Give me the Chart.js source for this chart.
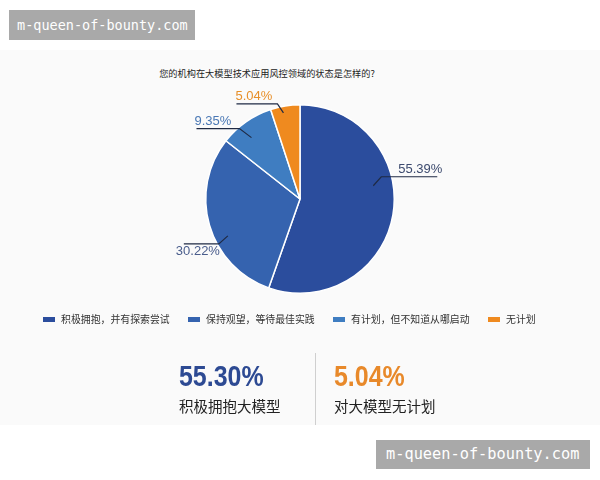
<!DOCTYPE html>
<html>
<head>
<meta charset="utf-8">
<script src="https://cdn.jsdelivr.net/npm/chart.js@4.4.1/dist/chart.umd.min.js"></script>
<style>
  body { margin: 0; background: #fff; font-family: "Noto Sans CJK SC", "Liberation Sans", sans-serif; }
  #wrap { position: relative; width: 600px; height: 480px; overflow: hidden; }
  #panel { position: absolute; left: 0; top: 50px; width: 600px; height: 375px; background: #fafafa; }
  #chart-box { position: absolute; left: 0; top: 0; width: 600px; height: 480px; }
  #title { position: absolute; top: 66px; left: 0; width: 534px; text-align: center; font-size: 9.2px; color: #222; }
  #legend { position: absolute; top: 311px; left: 0; width: 600px; height: 16px; }
  .leg { position: absolute; top: 0; font-size: 9.9px; color: #333; white-space: nowrap; line-height: 16px; }
  .leg i { display: inline-block; width: 12px; height: 5px; margin-right: 6px; vertical-align: middle; position: relative; top: -1px; }
  .stat { position: absolute; top: 360px; }
  .stat .num { font-family: "Liberation Sans", Arial, sans-serif; font-weight: bold; font-size: 29px; line-height: 32px; transform: scaleX(0.86); transform-origin: left center; }
  .stat .txt { font-size: 14.5px; color: #222; line-height: 20px; margin-top: 4px; }
  #divider { position: absolute; left: 315px; top: 353px; width: 1px; height: 72px; background: #cfcfcf; }
  .wm { position: absolute; background: #a9a9a9; color: #fff; font-family: "DejaVu Sans Mono", monospace; white-space: nowrap; }
</style>
</head>
<body>
<div id="wrap">
  <div id="panel"></div>
  <div id="title">您的机构在大模型技术应用风控领域的状态是怎样的?</div>
  <div id="chart-box"><canvas id="chart"></canvas></div>
  <div id="legend"></div>
  <div class="stat" style="left:179px;">
    <div class="num" id="stat1" style="color:#2d4a93;"></div>
    <div class="txt">积极拥抱大模型</div>
  </div>
  <div id="divider"></div>
  <div class="stat" style="left:334px;">
    <div class="num" id="stat2" style="color:#e8892a;"></div>
    <div class="txt">对大模型无计划</div>
  </div>
  <div class="wm" style="left:9px; top:10px; width:186px; height:30px; line-height:30px; font-size:13.5px; text-indent:8px;">m-queen-of-bounty.com</div>
  <div class="wm" style="left:376px; top:440px; width:214px; height:29px; line-height:29px; font-size:15.3px; text-indent:10px;">m-queen-of-bounty.com</div>
</div>
<script>
const categories = ['积极拥抱，并有探索尝试', '保持观望，等待最佳实践', '有计划，但不知道从哪启动', '无计划'];
const shares = [55.39, 30.22, 9.35, 5.04];
const sliceColors = ['#2b4d9d', '#3563af', '#3f7dc1', '#ef8a1f'];
const labelColors = ['#3c4a6e', '#4a5d8c', '#4a78b5', '#e8902a'];
const highlightStats = ['55.30%', '5.04%'];

// legend, built from the arrays
const legendX = [43, 188, 333, 488];
const legend = document.getElementById('legend');
categories.forEach((c, i) => {
  const d = document.createElement('div');
  d.className = 'leg';
  d.style.left = legendX[i] + 'px';
  d.innerHTML = `<i style="background:${sliceColors[i]}"></i>${c}`;
  legend.appendChild(d);
});

document.getElementById('stat1').textContent = highlightStats[0];
document.getElementById('stat2').textContent = highlightStats[1];

// leader line layout per slice (anchor radius fraction, elbow offset, horizontal run, text offset)
const leaders = [
  { d: 0.79, ex: 8, ey: -9, run: 56, tx: 17, ty: -7 },
  { d: 0.86, ex: -9, ey: 8, run: -35, tx: -43, ty: 8 },
  { d: 0.83, ex: -12, ey: -9, run: -43, tx: -45, ty: -7 },
  { d: 0.93, ex: -6, ey: -9, run: -41, tx: -42, ty: -8 }
];

const leaderLabels = {
  id: 'leaderLabels',
  afterDatasetsDraw(chart) {
    const ctx = chart.ctx;
    const meta = chart.getDatasetMeta(0);
    ctx.save();
    meta.data.forEach((arc, i) => {
      const p = arc.getProps(['x', 'y', 'startAngle', 'endAngle', 'outerRadius'], true);
      const L = leaders[i];
      const a = p.startAngle + (p.endAngle - p.startAngle) * 0.4;
      const r = p.outerRadius * L.d;
      const ax = p.x + Math.cos(a) * r;
      const ay = p.y + Math.sin(a) * r;
      const ex = ax + L.ex, ey = ay + L.ey;
      ctx.strokeStyle = '#1f2a44';
      ctx.lineWidth = 1.2;
      ctx.beginPath();
      ctx.moveTo(ax, ay);
      ctx.lineTo(ex, ey);
      ctx.lineTo(ex + L.run, ey);
      ctx.stroke();
      ctx.fillStyle = labelColors[i];
      ctx.font = '13px "Liberation Sans", Arial, sans-serif';
      ctx.textAlign = 'left';
      ctx.textBaseline = 'middle';
      ctx.fillText(shares[i].toFixed(2) + '%', ex + L.tx, ey + L.ty);
    });
    ctx.restore();
  }
};

new Chart(document.getElementById('chart'), {
  type: 'pie',
  data: {
    labels: categories,
    datasets: [{
      data: shares,
      backgroundColor: sliceColors,
      borderColor: '#ffffff',
      borderWidth: 1.5
    }]
  },
  options: {
    responsive: true,
    maintainAspectRatio: false,
    animation: false,
    layout: { padding: { top: 104, bottom: 186, left: 0, right: 0 } },
    plugins: {
      legend: { display: false },
      tooltip: { enabled: false }
    }
  },
  plugins: [leaderLabels]
});
</script>
</body>
</html>
